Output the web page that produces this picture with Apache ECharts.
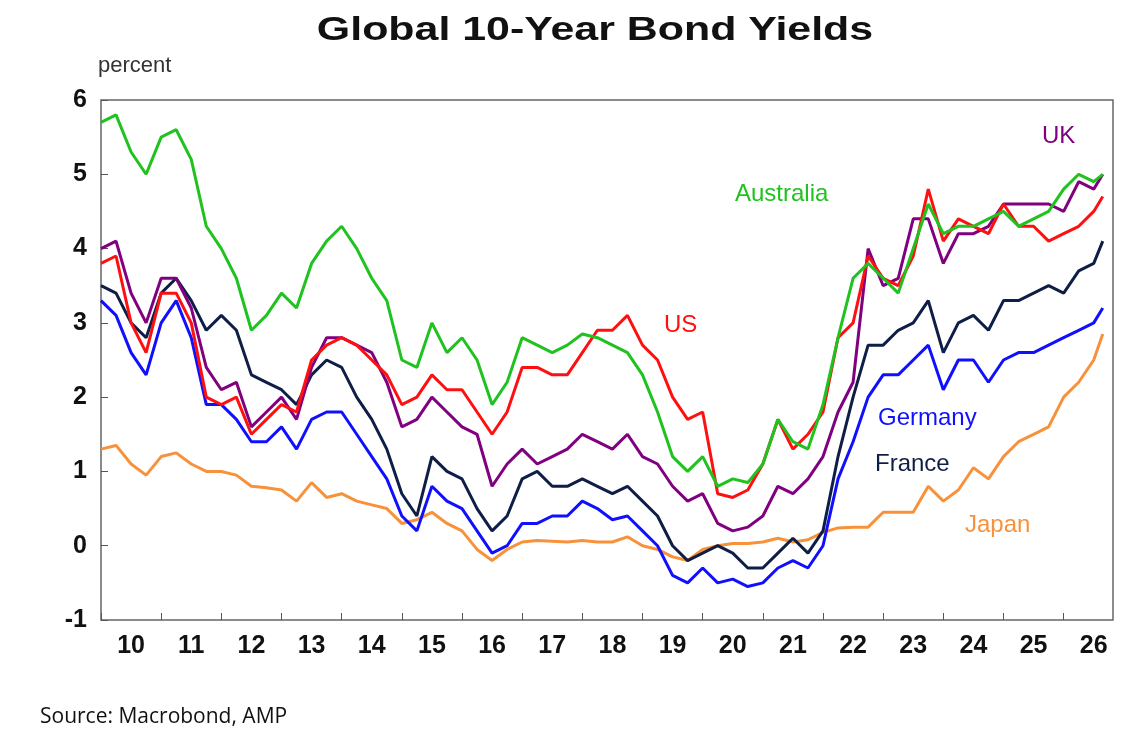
<!DOCTYPE html>
<html>
<head>
<meta charset="utf-8">
<script src="https://cdn.jsdelivr.net/npm/echarts@6/dist/echarts.min.js"></script>
<style>html,body{margin:0;background:#fff}#chart{width:1144px;height:752px}</style>
</head>
<body>
<div id="chart"></div>
<script>
var dates = [2010,2010.25,2010.5,2010.75,2011,2011.25,2011.5,2011.75,2012,2012.25,2012.5,2012.75,
  2013,2013.25,2013.5,2013.75,2014,2014.25,2014.5,2014.75,2015,2015.25,2015.5,2015.75,
  2016,2016.25,2016.5,2016.75,2017,2017.25,2017.5,2017.75,2018,2018.25,2018.5,2018.75,
  2019,2019.25,2019.5,2019.75,2020,2020.25,2020.5,2020.75,2021,2021.25,2021.5,2021.75,
  2022,2022.25,2022.5,2022.75,2023,2023.25,2023.5,2023.75,2024,2024.25,2024.5,2024.75,
  2025,2025.25,2025.5,2025.75,2026,2026.25,2026.5,2026.65];
var australia = [5.7,5.8,5.3,5.0,5.5,5.6,5.2,4.3,4.0,3.6,2.9,3.1,3.4,3.2,3.8,4.1,4.3,4.0,3.6,3.3,
  2.5,2.4,3.0,2.6,2.8,2.5,1.9,2.2,2.8,2.7,2.6,2.7,2.85,2.8,2.7,2.6,2.3,1.8,1.2,1.0,
  1.2,0.8,0.9,0.85,1.1,1.7,1.4,1.3,1.9,2.8,3.6,3.8,3.6,3.4,4.0,4.6,4.2,4.3,4.3,4.4,
  4.5,4.3,4.4,4.5,4.8,5.0,4.9,5.0];
var us = [3.8,3.9,3.0,2.6,3.4,3.4,3.0,2.0,1.9,2.0,1.5,1.7,1.9,1.8,2.5,2.7,2.8,2.7,2.5,2.3,
  1.9,2.0,2.3,2.1,2.1,1.8,1.5,1.8,2.4,2.4,2.3,2.3,2.6,2.9,2.9,3.1,2.7,2.5,2.0,1.7,
  1.8,0.7,0.65,0.75,1.1,1.7,1.3,1.5,1.8,2.8,3.0,3.9,3.6,3.5,3.9,4.8,4.1,4.4,4.3,4.2,
  4.6,4.3,4.3,4.1,4.2,4.3,4.5,4.7];
var uk = [4.0,4.1,3.4,3.0,3.6,3.6,3.2,2.4,2.1,2.2,1.6,1.8,2.0,1.7,2.4,2.8,2.8,2.7,2.6,2.2,
  1.6,1.7,2.0,1.8,1.6,1.5,0.8,1.1,1.3,1.1,1.2,1.3,1.5,1.4,1.3,1.5,1.2,1.1,0.8,0.6,
  0.7,0.3,0.2,0.25,0.4,0.8,0.7,0.9,1.2,1.8,2.2,4.0,3.5,3.6,4.4,4.4,3.8,4.2,4.2,4.3,
  4.6,4.6,4.6,4.6,4.5,4.9,4.8,5.0];
var france = [3.5,3.4,3.0,2.8,3.4,3.6,3.3,2.9,3.1,2.9,2.3,2.2,2.1,1.9,2.3,2.5,2.4,2.0,1.7,1.3,
  0.7,0.4,1.2,1.0,0.9,0.5,0.2,0.4,0.9,1.0,0.8,0.8,0.9,0.8,0.7,0.8,0.6,0.4,0.0,-0.2,
  -0.1,0.0,-0.1,-0.3,-0.3,-0.1,0.1,-0.1,0.2,1.2,2.0,2.7,2.7,2.9,3.0,3.3,2.6,3.0,3.1,2.9,
  3.3,3.3,3.4,3.5,3.4,3.7,3.8,4.1];
var germany = [3.3,3.1,2.6,2.3,3.0,3.3,2.8,1.9,1.9,1.7,1.4,1.4,1.6,1.3,1.7,1.8,1.8,1.5,1.2,0.9,
  0.4,0.2,0.8,0.6,0.5,0.2,-0.1,0.0,0.3,0.3,0.4,0.4,0.6,0.5,0.35,0.4,0.2,0.0,-0.4,-0.5,
  -0.3,-0.5,-0.45,-0.55,-0.5,-0.3,-0.2,-0.3,0.0,0.9,1.4,2.0,2.3,2.3,2.5,2.7,2.1,2.5,2.5,2.2,
  2.5,2.6,2.6,2.7,2.8,2.9,3.0,3.2];
var japan = [1.3,1.35,1.1,0.95,1.2,1.25,1.1,1.0,1.0,0.95,0.8,0.78,0.75,0.6,0.85,0.65,0.7,0.6,0.55,0.5,
  0.3,0.35,0.45,0.3,0.2,-0.05,-0.2,-0.05,0.05,0.07,0.06,0.05,0.07,0.05,0.05,0.12,0.0,-0.05,-0.15,-0.2,
  -0.05,0.0,0.03,0.03,0.05,0.1,0.05,0.08,0.18,0.24,0.25,0.25,0.45,0.45,0.45,0.8,0.6,0.75,1.05,0.9,
  1.2,1.4,1.5,1.6,2.0,2.2,2.5,2.85];
var yearLabels = [2010,2011,2012,2013,2014,2015,2016,2017,2018,2019,2020,2021,2022,2023,2024,2025,2026];

var chart = echarts.init(document.getElementById('chart'));

function pairs(vals) {
    return dates.map(function(d, i) { return [d, vals[i]]; });
}
function line(name, vals, color) {
    return {
        name: name, type: 'line', data: pairs(vals), showSymbol: false,
        lineStyle: { color: color, width: 3 }, itemStyle: { color: color }
    };
}
function tag(text, x, y, color) {
    return { type: 'text', left: x, top: y,
        style: { text: text, fill: color, font: '24px Arial, "Liberation Sans", sans-serif' } };
}

option = {
    animation: false,
    grid: { left: 101, right: 31, top: 100, bottom: 132, show: true, borderColor: '#666', borderWidth: 1.5 },
    graphic: [
        { type: 'text', x: 595, y: 14, scaleX: 1.3,
          style: { text: 'Global 10-Year Bond Yields', fill: '#111', align: 'center',
                   font: 'bold 33px Arial, "Liberation Sans", sans-serif' } },
        { type: 'text', left: 98, top: 55, style: { text: 'percent', fill: '#333', font: '22px Arial, "Liberation Sans", sans-serif' } },
        { type: 'text', left: 40, top: 707, style: { text: 'Source: Macrobond, AMP', fill: '#111', font: '21px "Open Sans", sans-serif' } },
        tag('UK', 1042, 124, '#800080'),
        tag('Australia', 735, 182, '#1fc21f'),
        tag('US', 664, 313, '#ff1010'),
        tag('Germany', 878, 406, '#1010ff'),
        tag('France', 875, 452, '#0f1e46'),
        tag('Japan', 965, 513, '#f7923a')
    ],
    xAxis: {
        type: 'value', min: 2010, max: 2026.82,
        axisLine: { show: false, onZero: false },
        splitLine: { show: false },
        axisTick: { show: true, inside: true, length: 7, customValues: yearLabels, lineStyle: { color: '#555' } },
        axisLabel: {
            customValues: yearLabels.map(function(y) { return y + 0.5; }),
            formatter: function(v) { return String(Math.floor(v)).slice(2); },
            fontSize: 25, fontWeight: 'bold', color: '#111', margin: 14,
            fontFamily: 'Arial, "Liberation Sans", sans-serif'
        }
    },
    yAxis: {
        type: 'value', min: -1, max: 6, interval: 1,
        axisLine: { show: false },
        splitLine: { show: false },
        axisTick: { show: true, inside: true, length: 7, lineStyle: { color: '#555' } },
        axisLabel: { fontSize: 25, fontWeight: 'bold', color: '#111', margin: 14,
            fontFamily: 'Arial, "Liberation Sans", sans-serif' }
    },
    series: [
        line('Japan', japan, '#f7923a'),
        line('Germany', germany, '#1010ff'),
        line('France', france, '#0f1e46'),
        line('UK', uk, '#800080'),
        line('US', us, '#ff1010'),
        line('Australia', australia, '#1fc21f')
    ]
};

chart.setOption(option);
</script>
</body>
</html>
